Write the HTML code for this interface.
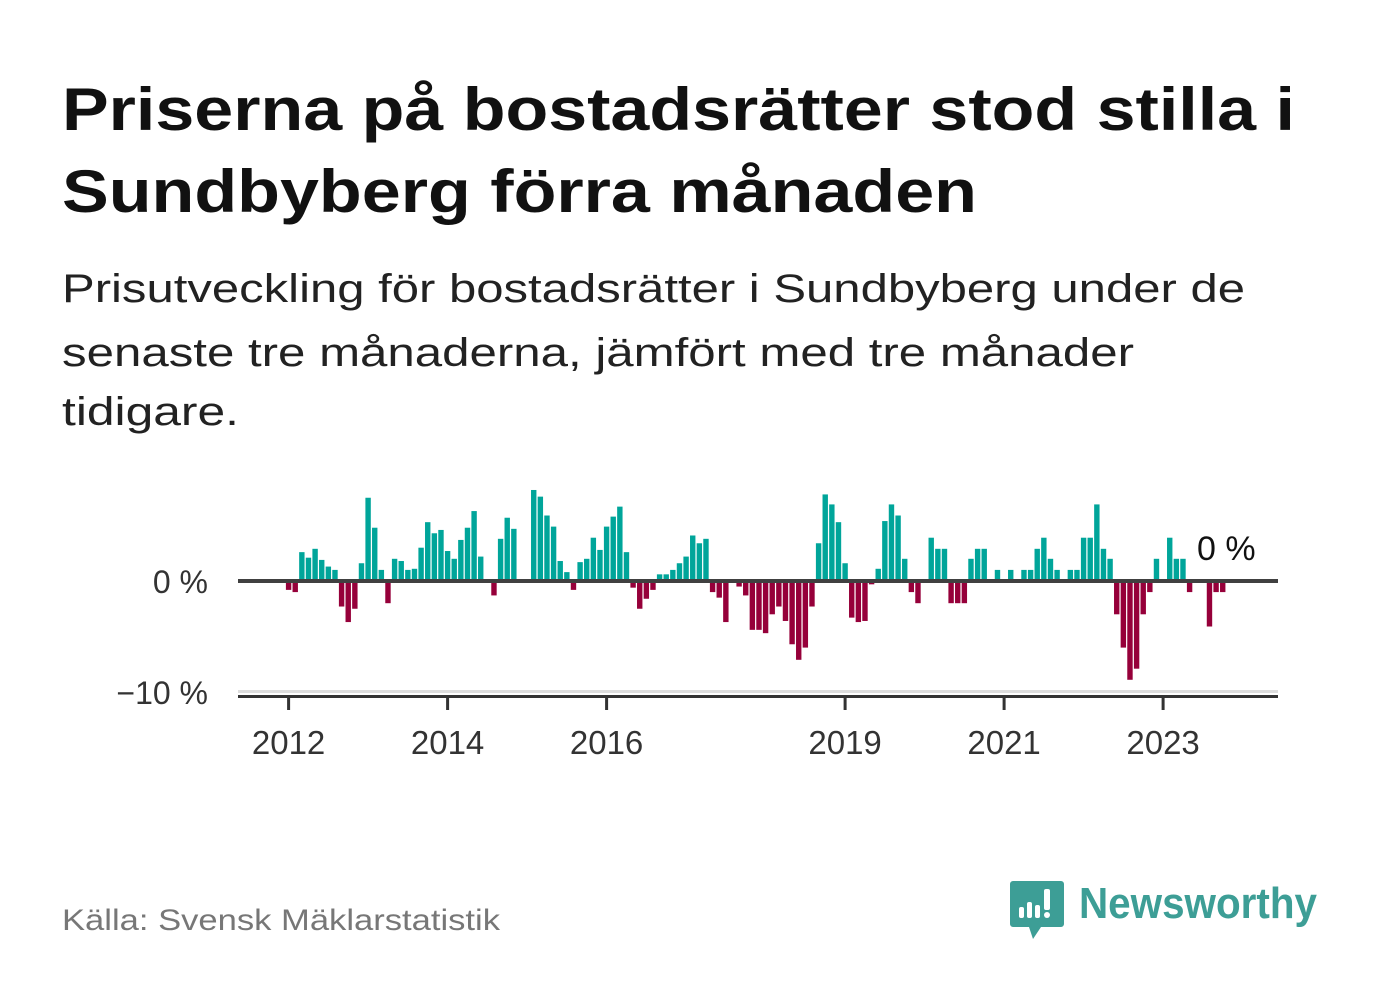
<!DOCTYPE html>
<html><head><meta charset="utf-8"><style>
html,body{margin:0;padding:0;background:#fff;}
svg{display:block;font-family:"Liberation Sans",sans-serif;}
</style></head><body>
<svg width="1382" height="999" viewBox="0 0 1382 999">
<text x="62" y="130" font-size="60" font-weight="bold" fill="#111" textLength="1233" lengthAdjust="spacingAndGlyphs">Priserna på bostadsrätter stod stilla i</text>
<text x="62" y="212" font-size="60" font-weight="bold" fill="#111" textLength="915" lengthAdjust="spacingAndGlyphs">Sundbyberg förra månaden</text>
<text x="62" y="302" font-size="40" fill="#222" textLength="1183" lengthAdjust="spacingAndGlyphs">Prisutveckling för bostadsrätter i Sundbyberg under de</text>
<text x="62" y="366" font-size="40" fill="#222" textLength="1072" lengthAdjust="spacingAndGlyphs">senaste tre månaderna, jämfört med tre månader</text>
<text x="62" y="425" font-size="40" fill="#222" textLength="177" lengthAdjust="spacingAndGlyphs">tidigare.</text>
<g id="plot"></g>
<text x="62" y="930" font-size="30" fill="#777" textLength="438" lengthAdjust="spacingAndGlyphs">Källa: Svensk Mäklarstatistik</text>
<g>
<path d="M1013 881 h48 a3 3 0 0 1 3 3 v40 a3 3 0 0 1 -3 3 h-20 l-8 12 l-4 -12 h-16 a3 3 0 0 1 -3 -3 v-40 a3 3 0 0 1 3 -3z" fill="#3d9e96"/>
<rect x="1019" y="907" width="5" height="11" rx="2" fill="#fff"/>
<rect x="1027" y="902" width="5" height="16" rx="2" fill="#fff"/>
<rect x="1035" y="905" width="5" height="13" rx="2" fill="#fff"/>
<rect x="1044" y="889" width="6" height="21" rx="2" fill="#fff"/>
<circle cx="1047" cy="915" r="3" fill="#fff"/>
<text x="1079" y="918" font-size="44" font-weight="bold" fill="#3d9e96" textLength="238" lengthAdjust="spacingAndGlyphs">Newsworthy</text>
</g>
</svg>
<script>
const startYear = 2012;
const values = [
-0.8,-1.0,2.6,2.1,2.9,1.9,1.3,1.0,-2.3,-3.7,-2.5,1.6,
7.5,4.8,1.0,-2.0,2.0,1.8,1.0,1.1,3.0,5.3,4.3,4.6,
2.7,2.0,3.7,4.8,6.3,2.2,0,-1.3,3.8,5.7,4.7,0,
0,8.2,7.6,5.9,4.9,1.8,0.8,-0.8,1.7,2.0,3.9,2.8,
4.9,5.8,6.7,2.6,-0.6,-2.5,-1.6,-0.8,0.6,0.6,1.0,1.6,
2.2,4.1,3.4,3.8,-1.0,-1.5,-3.7,0,-0.5,-1.3,-4.4,-4.4,
-4.7,-3.0,-2.3,-3.6,-5.7,-7.1,-6.0,-2.3,3.4,7.8,6.9,5.3,
1.6,-3.3,-3.7,-3.6,-0.3,1.1,5.4,6.9,5.9,2.0,-1.0,-2.0,
0,3.9,2.9,2.9,-2.0,-2.0,-2.0,2.0,2.9,2.9,0,1.0,
0,1.0,0,1.0,1.0,2.9,3.9,2.0,1.0,0,1.0,1.0,
3.9,3.9,6.9,2.9,2.0,-3.0,-6.0,-8.9,-7.9,-3.0,-1.0,2.0,
0,3.9,2.0,2.0,-1.0,0,0,-4.1,-1.0,-1.0
];
const yTicks = [0,-10];
const yTickLabels = ["0 %","\u221210 %"];
const xTickYears = [2012,2014,2016,2019,2021,2023];
const lastLabel = "0 %";

const NS="http://www.w3.org/2000/svg";
const g=document.getElementById('plot');
const xMonth = m => 288.6 + 6.625*m;
const yVal = v => 581 - v*11.1;
function mk(t,a){const e=document.createElementNS(NS,t);for(const k in a)e.setAttribute(k,a[k]);g.appendChild(e);return e;}
// -10 gridline
const gl=mk('rect',{x:238,y:yVal(-10)-2,width:1040,height:3,fill:'#ddd'});


values.forEach((v,i)=>{
  const y0=yVal(0), y1=yVal(v);
  const r=mk('rect',{x:xMonth(i)-2.7,y:Math.min(y0,y1),width:5.4,height:Math.abs(y1-y0),fill:v>=0?'#00a59a':'#96003a'});
  
  
});
const zl=mk('rect',{x:238,y:yVal(0)-2,width:1040,height:4,fill:'#404040'});


const xa=mk('rect',{x:238,y:695,width:1040,height:3,fill:'#333'});


yTicks.forEach((t,i)=>{
  const e=mk('text',{x:208,y:yVal(t)+12,'font-size':32,fill:'#333','text-anchor':'end'});
  e.textContent=yTickLabels[i];
  
  
});
xTickYears.forEach(yr=>{
  const x=xMonth((yr-startYear)*12);
  const t=mk('rect',{x:x-1.5,y:696,width:3,height:14,fill:'#333'});
  
  
  const l=mk('text',{x:x,y:754,'font-size':33,fill:'#333','text-anchor':'middle'});
  l.textContent=yr;
  
  
});
const ll=mk('text',{x:1197,y:560,'font-size':34,fill:'#111'});
ll.textContent=lastLabel;


</script>
</body></html>
